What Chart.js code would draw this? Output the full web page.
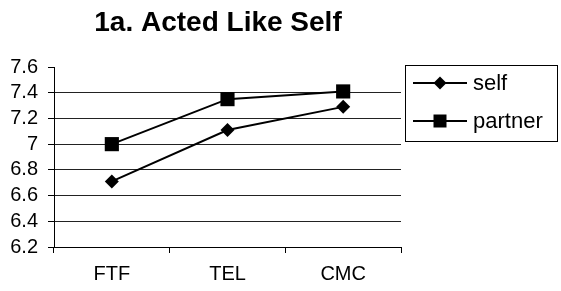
<!DOCTYPE html>
<html>
<head>
<meta charset="utf-8">
<script src="https://cdn.jsdelivr.net/npm/chart.js@4/dist/chart.umd.min.js"></script>
<style>
html,body{margin:0;padding:0;background:#fff;}
#wrap{width:561px;height:291px;position:relative;}
</style>
</head>
<body>
<div id="wrap"><canvas id="c" width="561" height="291"></canvas></div>
<script>
const titleText = '1a. Acted Like Self';
const categories = ['FTF', 'TEL', 'CMC'];
const seriesNames = ['self', 'partner'];
const selfValues = [6.71, 7.11, 7.29];
const partnerValues = [7.00, 7.35, 7.41];
const yMin = 6.2, yMax = 7.6, yStep = 0.2;

const FONT = "'Liberation Sans', Arial, sans-serif";

const titlePlugin = {
  id: 'customTitle',
  afterDraw(chart) {
    const ctx = chart.ctx;
    ctx.save();
    ctx.fillStyle = '#000';
    ctx.font = 'bold 28px ' + FONT;
    ctx.textAlign = 'center';
    ctx.textBaseline = 'alphabetic';
    ctx.fillText(titleText, 218, 31);
    ctx.restore();
  }
};

const legendPlugin = {
  id: 'customLegend',
  afterDraw(chart) {
    const ctx = chart.ctx;
    ctx.save();
    ctx.strokeStyle = '#000';
    ctx.lineWidth = 1;
    ctx.strokeRect(405.5, 65.5, 152, 76);
    const rows = [83, 121];
    chart.data.datasets.forEach((ds, i) => {
      const y = rows[i];
      ctx.strokeStyle = '#000';
      ctx.lineWidth = 2;
      ctx.beginPath();
      ctx.moveTo(413, y);
      ctx.lineTo(467, y);
      ctx.stroke();
      ctx.fillStyle = '#000';
      ctx.beginPath();
      if (ds.pointStyle === 'rectRot') {
        const r = 6.5;
        ctx.moveTo(440 - r, y); ctx.lineTo(440, y - r); ctx.lineTo(440 + r, y); ctx.lineTo(440, y + r);
        ctx.closePath();
      } else {
        ctx.rect(440 - 6.5, y - 6.5, 13, 13);
      }
      ctx.fill();
      ctx.font = '22px ' + FONT;
      ctx.textAlign = 'left';
      ctx.textBaseline = 'middle';
      ctx.fillText(ds.label, 473, y + 1);
    });
    ctx.restore();
  }
};

new Chart(document.getElementById('c'), {
  type: 'line',
  data: {
    labels: categories,
    datasets: [
      {
        label: seriesNames[0],
        data: selfValues,
        borderColor: '#000',
        backgroundColor: '#000',
        borderWidth: 2,
        pointStyle: 'rectRot',
        pointRadius: 7,
        pointHoverRadius: 7,
        pointBorderWidth: 0,
        tension: 0
      },
      {
        label: seriesNames[1],
        data: partnerValues,
        borderColor: '#000',
        backgroundColor: '#000',
        borderWidth: 2,
        pointStyle: 'rect',
        pointRadius: 10,
        pointHoverRadius: 10,
        pointBorderWidth: 0,
        tension: 0
      }
    ]
  },
  options: {
    responsive: false,
    animation: false,
    events: [],
    layout: { padding: { top: 67, right: 160, left: 0, bottom: 0 } },
    plugins: {
      legend: { display: false },
      title: { display: false },
      tooltip: { enabled: false }
    },
    scales: {
      x: {
        type: 'category',
        offset: true,
        afterFit(scale) { scale.height = 44; },
        grid: {
          offset: true,
          drawOnChartArea: false,
          drawTicks: true,
          tickLength: 6,
          color: '#000',
          lineWidth: 1
        },
        border: { display: true, color: '#000', width: 1 },
        ticks: {
          color: '#000',
          font: { family: FONT, size: 20 },
          padding: 9,
          maxRotation: 0,
          autoSkip: false
        }
      },
      y: {
        min: yMin,
        max: yMax,
        afterFit(scale) { scale.width = 54; },
        afterBuildTicks(scale) {
          const t = [];
          for (let i = 0; i <= Math.round((yMax - yMin) / yStep); i++) {
            t.push({ value: +(yMin + i * yStep).toFixed(1) });
          }
          scale.ticks = t;
        },
        grid: {
          drawTicks: true,
          tickLength: 6,
          color: (c) => (c.tick && Math.abs(c.tick.value - yMax) < 1e-6) ? 'rgba(0,0,0,0)' : '#222',
          tickColor: '#000',
          lineWidth: 1
        },
        border: { display: true, color: '#000', width: 1 },
        ticks: {
          color: '#000',
          font: { family: FONT, size: 20 },
          padding: 10,
          autoSkip: false,
          callback: (v) => String(+Number(v).toFixed(1))
        }
      }
    }
  },
  plugins: [titlePlugin, legendPlugin]
});
</script>
</body>
</html>
